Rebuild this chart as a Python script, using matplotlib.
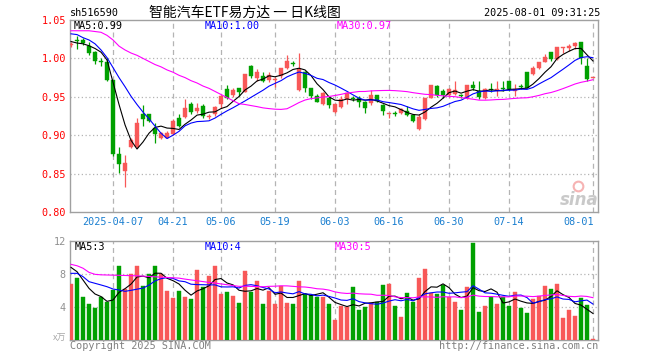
import numpy as np
import pandas as pd
import matplotlib
matplotlib.use("Agg")
import matplotlib.pyplot as plt
import matplotlib.transforms as mtrans

# ---------------- data ----------------
opens = [1.018,1.024,1.024,1.0165,1.008,0.996,0.995,0.972,0.875,0.853,
 0.884,0.884,0.927,0.927,0.910,0.896,0.897,0.901,0.922,0.924,
 0.940,0.932,0.9375,0.924,0.927,0.940,0.960,0.952,0.9613,0.9565,
 0.990,0.974,0.9765,0.972,0.972,0.977,0.987,0.994,0.9587,0.9826,
 0.962,0.9504,0.9404,0.949,0.9308,0.937,0.947,0.948,0.9487,0.9435,
 0.9417,0.952,0.939,0.9275,0.9285,0.9295,0.9317,0.9265,0.9087,0.9213,
 0.949,0.9635,0.958,0.952,0.9535,0.9515,0.948,0.965,0.958,0.948,
 0.9595,0.959,0.9605,0.9704,0.958,0.9638,0.9817,0.9796,0.987,0.9957,
 1.0087,0.999,1.0135,1.014,1.0157,1.021,0.9896,0.974]
closes = [1.019,1.023,1.020,1.0065,0.996,0.995,0.972,0.875,0.862,0.8635,
 0.894,0.9156,0.921,0.919,0.901,0.9025,0.903,0.9187,0.912,0.935,
 0.930,0.935,0.925,0.925,0.937,0.9513,0.948,0.959,0.9565,0.9796,
 0.9765,0.9817,0.971,0.978,0.973,0.987,0.997,0.993,0.986,0.962,
 0.9504,0.9435,0.9548,0.939,0.9404,0.947,0.9548,0.947,0.9435,0.936,
 0.952,0.9448,0.9317,0.928,0.928,0.934,0.9265,0.9187,0.924,0.948,
 0.965,0.952,0.952,0.960,0.9587,0.951,0.965,0.962,0.950,0.960,
 0.959,0.9595,0.960,0.960,0.9608,0.9633,0.962,0.987,0.9957,1.002,
 0.999,1.015,1.014,1.0165,1.0196,1.000,0.973,0.974]
highs = [1.022,1.029,1.026,1.022,1.010,1.001,1.000,0.972,0.884,0.874,
 0.896,0.922,0.939,0.928,0.916,0.904,0.905,0.921,0.927,0.947,
 0.943,0.942,0.940,0.927,0.938,0.952,0.966,0.962,0.962,0.980,
 0.992,0.986,0.982,0.982,0.976,0.988,1.004,0.997,1.0065,0.984,
 0.962,0.953,0.956,0.950,0.9404,0.9505,0.956,0.951,0.951,0.945,
 0.959,0.952,0.940,0.928,0.931,0.936,0.938,0.928,0.927,0.949,
 0.966,0.965,0.960,0.962,0.970,0.953,0.966,0.971,0.971,0.962,
 0.9675,0.970,0.971,0.971,0.9665,0.9665,0.9817,0.9905,0.9957,1.0055,
 1.0087,1.015,1.015,1.0187,1.021,1.021,1.001,0.974]
lows = [1.015,1.012,1.018,1.004,0.993,0.990,0.970,0.873,0.851,0.832,
 0.883,0.883,0.912,0.917,0.890,0.895,0.896,0.900,0.911,0.923,
 0.927,0.929,0.922,0.921,0.925,0.936,0.947,0.950,0.951,0.9557,
 0.974,0.971,0.969,0.969,0.963,0.975,0.986,0.990,0.958,0.956,
 0.947,0.943,0.9395,0.935,0.929,0.936,0.941,0.945,0.937,0.929,
 0.939,0.943,0.926,0.923,0.925,0.927,0.925,0.917,0.907,0.920,
 0.948,0.950,0.949,0.950,0.952,0.948,0.947,0.959,0.947,0.947,
 0.956,0.951,0.957,0.958,0.951,0.9605,0.961,0.978,0.986,0.995,
 0.997,0.998,1.0074,1.010,1.0117,0.993,0.971,0.974]
volumes = [6.8,7.55,5.25,4.36,3.92,5.25,4.65,6.06,8.97,6.18,
 8.0,8.97,6.59,7.96,8.97,7.96,5.94,5.13,5.94,5.2,
 4.97,8.48,6.46,7.76,8.97,5.58,5.78,5.33,4.48,8.36,
 5.86,7.15,4.36,5.98,4.36,6.59,4.48,4.36,7.15,5.54,
 5.45,5.25,5.25,4.4,2.42,4.16,4.04,6.38,3.64,4.04,
 4.44,4.57,6.67,6.79,4.12,2.83,5.74,4.65,7.56,8.6,
 5.66,5.54,6.67,5.25,4.65,3.64,6.38,11.8,3.43,4.12,
 5.25,4.36,5.25,4.12,5.86,3.92,3.31,4.97,5.33,6.59,
 6.14,6.79,2.63,3.64,2.95,5.13,4.24,0.1]

# moving-average values before a full window is available
ma5_head = [1.022, 1.020, 1.019, 1.0165]
ma10_head = [1.032, 1.031, 1.027, 1.024, 1.019, 1.011, 1.001, 0.988, 0.975]
ma30_head = [1.036, 1.036, 1.036, 1.036, 1.035, 1.034, 1.030, 1.024, 1.016, 1.011,
             1.007, 1.004, 1.000, 0.996, 0.992, 0.989, 0.985, 0.982, 0.978, 0.975,
             0.971, 0.968, 0.964, 0.961, 0.957, 0.953, 0.949, 0.945, 0.941]
vma5_head = [8.8, 8.28, 7.27, 6.26]
vma10_head = [8.08, 8.08, 7.68, 7.07, 6.87, 6.67, 6.46, 6.18, 6.06]
vma30_head = [9.17, 9.0, 8.7, 8.2, 7.96, 7.9, 7.88, 7.86, 7.84, 7.82, 7.8, 7.78, 7.74,
              7.7, 7.66, 7.62, 7.58, 7.54, 7.5, 7.38, 7.28, 7.18, 7.08, 6.98, 6.9,
              6.8, 6.7, 6.6, 6.5]

tick_idx = [7, 17, 25, 34, 44, 53, 63, 73, 87]
tick_labels = ["2025-04-07", "04-21", "05-06", "05-19", "06-03", "06-16",
               "06-30", "07-14", "08-01"]
price_ticks = [0.80, 0.85, 0.90, 0.95, 1.00, 1.05]
vol_ticks = [4, 8, 12]

title_code = "sh516590"
title_main = "智能汽车ETF易方达 一 日K线图"
title_time = "2025-08-01 09:31:25"
ma_labels = ["MA5:0.99", "MA10:1.00", "MA30:0.97"]
vma_labels = ["MA5:3", "MA10:4", "MA30:5"]

# ---------------- helpers ----------------
def ma(values, n, head):
    s = pd.Series(values, dtype=float).rolling(n).mean().to_numpy()
    s[:len(head)] = head
    return s

RED = "#f85858"
GREEN = "#00a000"
GRID = "#b4b4b4"
FRAME = "#a0a0a0"
MONO = "DejaVu Sans Mono"
FS = 7.3

n = len(closes)
x = np.arange(n)
o = np.array(opens); c = np.array(closes)
h = np.array(highs); l = np.array(lows)
up = c >= o
colors = [RED if u else GREEN for u in up]

fig = plt.figure(figsize=(6.6, 3.6), dpi=100)
fig.patch.set_facecolor("white")
ax = fig.add_axes([70/660, 1-212/360, 528/660, 192/360])
axv = fig.add_axes([70/660, 1-340/360, 528/660, 99/360])

xlim = (-0.17, n - 0.17)
for a in (ax, axv):
    a.set_xlim(*xlim)
    for s in a.spines.values():
        s.set_color(FRAME)
        s.set_linewidth(1.0)
    a.set_xticks([])
    a.tick_params(axis="y", length=0, pad=3)
    for xi in tick_idx:
        a.axvline(xi, color=GRID, ls=(0, (4, 3)), lw=0.9, zorder=1)

# ---------------- price panel ----------------
ax.set_ylim(0.80, 1.05)
ax.set_yticks(price_ticks)
ax.set_yticklabels([f"{v:.2f}" for v in price_ticks], color="red",
                   fontfamily=MONO, fontsize=FS)
for yv in price_ticks[1:-1]:
    ax.axhline(yv, color=GRID, ls=(0, (1, 2)), lw=0.9, zorder=1)

body_min = 0.0012
bh = np.maximum(np.abs(c - o), body_min)
bb = np.minimum(o, c)
ax.vlines(x, l, h, colors=colors, lw=0.9, zorder=3)
ax.bar(x, bh, bottom=bb, width=0.82, color=colors, edgecolor=colors,
       linewidth=0.3, zorder=4)

ax.plot(x, ma(closes, 5, ma5_head), color="black", lw=0.8, zorder=5)
ax.plot(x, ma(closes, 10, ma10_head), color="#0000ff", lw=0.8, zorder=5)
ax.plot(x, ma(closes, 30, ma30_head), color="#ff00ff", lw=0.8, zorder=5)

for txt, xp, col in zip(ma_labels, [74, 205, 337], ["black", "#0000ff", "#ff00ff"]):
    fig.text(xp/660, 1-26/360, txt, color=col, fontfamily=MONO, fontsize=FS,
             va="center", ha="left")

trans = mtrans.blended_transform_factory(ax.transData, ax.transAxes)
for k, (xi, lab) in enumerate(zip(tick_idx, tick_labels)):
    ha = "right" if k == len(tick_idx) - 1 else "center"
    xx = xi + 0.2 if ha == "right" else xi
    ax.text(xx, -10/192, lab, transform=trans, ha=ha, va="center",
            color="#1a7fd0", fontfamily=MONO, fontsize=FS)

# sina watermark
ax.text(0.965, 0.06, "sina", transform=ax.transAxes, ha="center", va="center",
        color="#c4c4c4", fontsize=12, fontstyle="italic", fontweight="bold",
        alpha=0.9, zorder=2)
ax.plot([0.962], [0.135], transform=ax.transAxes, marker="o", ms=7,
        mfc="none", mec="#f4a0a0", mew=1.5, alpha=0.8, zorder=2)

# ---------------- volume panel ----------------
axv.set_ylim(0, 12)
axv.set_yticks(vol_ticks)
axv.set_yticklabels([str(v) for v in vol_ticks], color="#909090",
                    fontfamily=MONO, fontsize=FS)
for yv in [4, 8]:
    axv.axhline(yv, color=GRID, ls=(0, (1, 2)), lw=0.9, zorder=1)
axv.bar(x, volumes, width=0.82, color=colors, edgecolor=colors,
        linewidth=0.3, zorder=3)
axv.plot(x, ma(volumes, 5, vma5_head), color="black", lw=0.8, zorder=5)
axv.plot(x, ma(volumes, 10, vma10_head), color="#0000ff", lw=0.8, zorder=5)
axv.plot(x, ma(volumes, 30, vma30_head), color="#ff00ff", lw=0.8, zorder=5)

for txt, xp, col in zip(vma_labels, [75, 205, 335], ["black", "#0000ff", "#ff00ff"]):
    fig.text(xp/660, 1-247/360, txt, color=col, fontfamily=MONO, fontsize=FS,
             va="center", ha="left")

fig.text(66/660, 1-338/360, "x万", color="#a8a8a8", fontsize=6.5,
         fontfamily=["Noto Sans CJK SC", "DejaVu Sans"], fontstyle="italic",
         ha="right", va="center")

# ---------------- header / footer ----------------
fig.text(70/660, 1-13/360, title_code, fontfamily=MONO, fontsize=FS,
         ha="left", va="center", color="black")
fig.text(245/660, 1-13/360, title_main, fontsize=10,
         fontfamily=["Noto Sans CJK SC", "DejaVu Sans"], ha="center",
         va="center", color="black")
fig.text(600/660, 1-13/360, title_time, fontfamily=MONO, fontsize=FS,
         ha="right", va="center", color="black")
fig.text(70/660, 1-346/360, "Copyright 2025 SINA.COM", fontfamily=MONO,
         fontsize=FS, ha="left", va="center", color="#808080")
fig.text(598/660, 1-346/360, "http://finance.sina.com.cn", fontfamily=MONO,
         fontsize=FS, ha="right", va="center", color="#808080")

fig.savefig("out.png", dpi=100, facecolor="white")
